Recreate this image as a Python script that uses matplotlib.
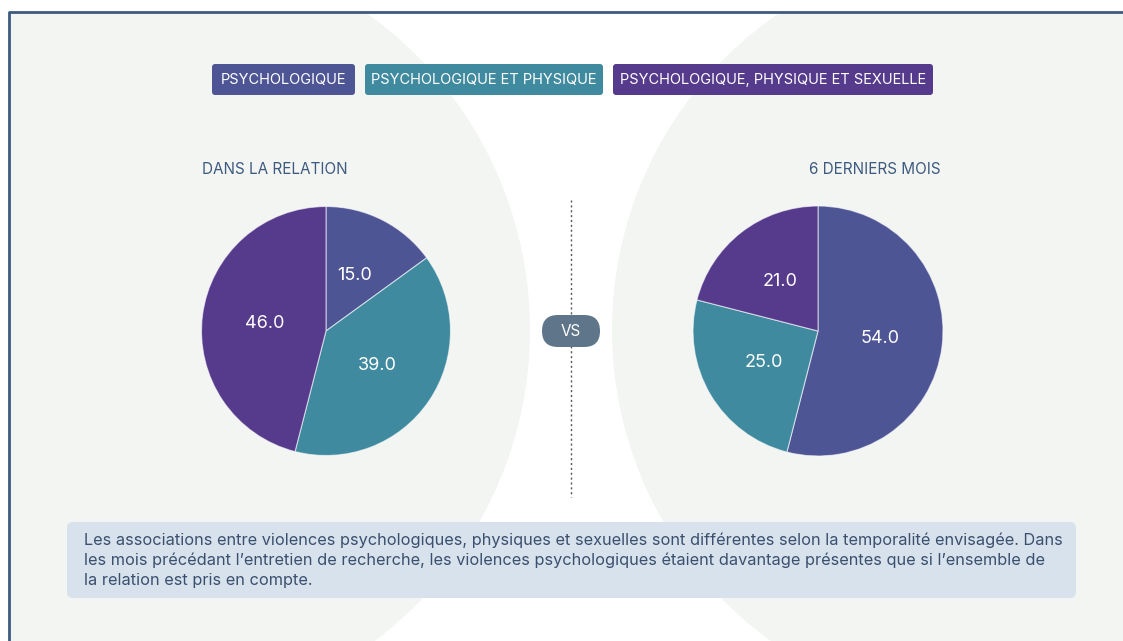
import matplotlib
matplotlib.use("Agg")
import matplotlib.pyplot as plt
from matplotlib.patches import Circle, FancyBboxPatch, Rectangle

# ---- data ----
categories = ["PSYCHOLOGIQUE", "PSYCHOLOGIQUE ET PHYSIQUE", "PSYCHOLOGIQUE, PHYSIQUE ET SEXUELLE"]
relation_values = [15.0, 39.0, 46.0]
six_months_values = [54.0, 25.0, 21.0]
pie_titles = ["DANS LA RELATION", "6 DERNIERS MOIS"]
colors = ["#4e5595", "#408aa0", "#563a8c"]
note = ("Les associations entre violences psychologiques, physiques et sexuelles sont différentes selon la temporalité envisagée. Dans\n"
        "les mois précédant l\u2019entretien de recherche, les violences psychologiques étaient davantage présentes que si l\u2019ensemble de\n"
        "la relation est pris en compte.")

FONT = ["Inter", "DejaVu Sans"]
plt.rcParams["font.family"] = FONT

W, H = 1123, 641
fig = plt.figure(figsize=(W / 100, H / 100), dpi=100)
fig.patch.set_facecolor("white")

bg = fig.add_axes([0, 0, 1, 1])
bg.set_xlim(0, W)
bg.set_ylim(H, 0)
bg.axis("off")

# frame background
gray = "#f3f5f2"
frame = Rectangle((9, 12), W, H, facecolor="white", edgecolor="none", zorder=0)
bg.add_patch(frame)
for (cx, cy, r) in [(141, 330, 389), (996, 330, 384)]:
    c = Circle((cx, cy), r, facecolor=gray, edgecolor="none", zorder=1)
    bg.add_patch(c)
    c.set_clip_path(frame)
bg.plot([9, 9, W], [H, 12, 12], color="#3d5a80", lw=2, zorder=5, solid_capstyle="butt")

# legend boxes
legend_boxes = [(211, 356), (364, 604), (612, 934)]
for (x0, x1), lab, c in zip(legend_boxes, categories, colors):
    bg.add_patch(FancyBboxPatch((x0 + 1, 64), x1 - x0 - 2, 31,
                                boxstyle="round,pad=0,rounding_size=3",
                                facecolor=c, edgecolor="none", zorder=3))
    bg.text((x0 + x1) / 2, 80, lab, color="white", fontsize=10.5, ha="center", va="center", zorder=4)

# pie titles
title_col = "#3d5a80"
bg.text(202, 170, pie_titles[0], color=title_col, fontsize=11, ha="left", va="center")
bg.text(941, 170, pie_titles[1], color=title_col, fontsize=11, ha="right", va="center")

# dotted line + VS pill
bg.plot([571, 571], [200, 497], color="#555555", lw=1, ls=(0, (1.5, 2)), zorder=2)
bg.add_patch(FancyBboxPatch((542, 315), 58, 32,
                            boxstyle="round,pad=0,rounding_size=16",
                            facecolor="#5f7589", edgecolor="none", zorder=3))
bg.text(571, 331, "VS", color="white", fontsize=11, ha="center", va="center", zorder=4)

# note box
bg.add_patch(FancyBboxPatch((67, 522), 1076 - 67, 76,
                            boxstyle="round,pad=0,rounding_size=6",
                            facecolor="#d7e2ec", edgecolor="none", zorder=3))
bg.text(84, 560, note, color="#3b4f6e", fontsize=11.75, ha="left", va="center",
        linespacing=1.4, zorder=4)

# pies
def add_pie(cx, cy, r, values):
    ax = fig.add_axes([(cx - r) / W, (H - cy - r) / H, 2 * r / W, 2 * r / H])
    wedges, texts = ax.pie(values, colors=colors, startangle=90, counterclock=False,
                           radius=1, labels=[f"{v:.1f}" for v in values],
                           labeldistance=0.5,
                           wedgeprops=dict(edgecolor=(1, 1, 1, 0.6), linewidth=0.8),
                           textprops=dict(color="white", fontsize=13, ha="center", va="center"))
    for t in texts:
        t.set_ha("center")
        t.set_va("center")
    ax.set_xlim(-1, 1)
    ax.set_ylim(-1, 1)
    ax.set_aspect("equal")
    ax.axis("off")
    return ax

add_pie(326, 331, 124.5, relation_values)
add_pie(818, 331, 125, six_months_values)

fig.savefig("out.png", dpi=100, facecolor="white")
